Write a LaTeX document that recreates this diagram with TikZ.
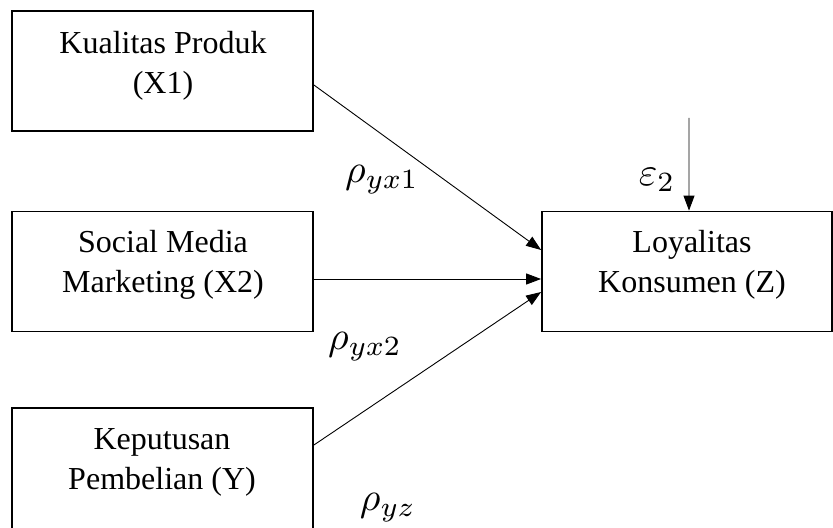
\documentclass[tikz,border=0pt]{standalone}
\usepackage{fontspec}
\setmainfont{Liberation Serif}
\usetikzlibrary{arrows.meta}
\begin{document}
\begin{tikzpicture}[x=1bp,y=-1bp,
  varbox/.style={draw, line width=1.8bp, minimum width=301bp, minimum height=120bp, inner sep=0pt},
  boxtext/.style={align=center, inner sep=0pt, font=\fontsize{32bp}{40bp}\selectfont},
  mathlbl/.style={inner sep=0pt, scale=4},
  path/.style={line width=0.9bp, -{Triangle[length=15bp,width=11bp]}}
]
\useasboundingbox (0,0) rectangle (833,528);
% boxes
\node[varbox] (x1) at (162.5,71) {};
\node[varbox] (x2) at (162.5,271.5) {};
\node[varbox, minimum height=140bp] (y) at (162.5,478) {};
\node[varbox, minimum width=290bp] (z) at (687,271.5) {};
% texts
\node[boxtext] (tx1) at (163,66) {Kualitas Produk\\(X1)};
\node[boxtext] (tx2) at (163,265) {Social Media\\Marketing (X2)};
\node[boxtext] (ty) at (162,462) {Keputusan\\Pembelian (Y)};
\node[boxtext] (tz) at (692,265) {Loyalitas\\Konsumen (Z)};
% arrows
\draw[path] ([yshift=-14bp]x1.east) -- ([yshift=21.5bp]z.west);
\draw[path] ([yshift=-7.5bp]x2.east) -- ([yshift=-7.5bp]z.west);
\draw[path] ([yshift=33bp]y.east) -- ([yshift=-20.5bp]z.west);
\coordinate (etop) at (689,118);
\draw[path] (etop) -- ([xshift=2bp]z.north);
% labels
\node[mathlbl] (l1) at (382,180) {$\rho_{yx1}$};
\node[mathlbl] (l2) at (365,347) {$\rho_{yx2}$};
\node[mathlbl] (l3) at (388,508) {$\rho_{yz}$};
\node[mathlbl] (le) at (657,180) {$\varepsilon_2$};
\end{tikzpicture}
\end{document}
